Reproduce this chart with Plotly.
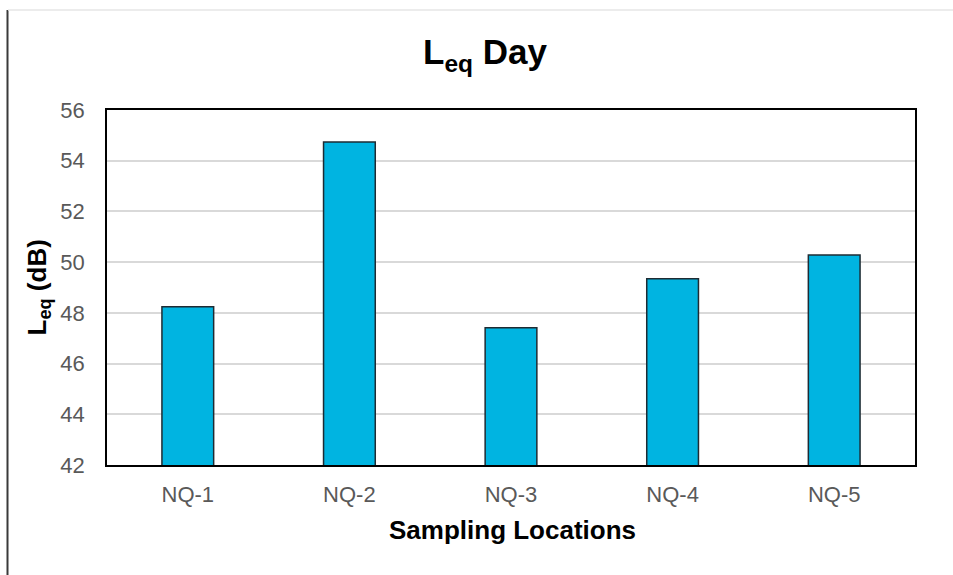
import plotly.graph_objects as go

# Sampling locations and daytime equivalent noise levels (dB)
locations = ["NQ-1", "NQ-2", "NQ-3", "NQ-4", "NQ-5"]
leq_day = [48.24, 54.74, 47.41, 49.35, 50.28]
y_ticks = [42, 44, 46, 48, 50, 52, 54, 56]

W, H = 953, 575
L, R, T, B = 107, 38, 110, 110
pw, ph = W - L - R, H - T - B


def px_x(x):
    return (x - L) / pw


def px_y(y):
    return (H - B - y) / ph


fig = go.Figure(
    go.Bar(
        x=locations,
        y=leq_day,
        base=0,
        marker=dict(color="#00B4E1", line=dict(color="#1E2B33", width=1.5)),
        hoverinfo="x+y",
    )
)

font = "Liberation Sans, Arial, sans-serif"

fig.update_layout(
    width=W,
    height=H,
    margin=dict(l=L, r=R, t=T, b=B, pad=0),
    paper_bgcolor="white",
    plot_bgcolor="white",
    bargap=0.68,
    showlegend=False,
    title=dict(
        text="<b>L<sub>eq</sub> Day</b>",
        x=485 / W,
        xanchor="center",
        xref="container",
        y=1 - 52 / H,
        yanchor="middle",
        yref="container",
        font=dict(family=font, size=35, color="black"),
    ),
    font=dict(family=font),
)

fig.update_xaxes(
    showgrid=False,
    showline=True,
    linecolor="black",
    linewidth=2,
    mirror=True,
    ticks="outside",
    ticklen=9,
    tickcolor="rgba(0,0,0,0)",
    tickfont=dict(family=font, size=22, color="#595959"),
)

fig.update_yaxes(
    range=[42, 56],
    tickvals=y_ticks,
    showgrid=True,
    gridcolor="#D9D9D9",
    gridwidth=1.5,
    showline=True,
    linecolor="black",
    linewidth=1.5,
    mirror=True,
    ticks="outside",
    ticklen=16,
    tickcolor="rgba(0,0,0,0)",
    tickfont=dict(family=font, size=22, color="#595959"),
    zeroline=False,
)

# Axis titles
fig.add_annotation(
    text="<b>Sampling Locations</b>",
    xref="paper", yref="paper",
    x=px_x(512), y=px_y(530),
    xanchor="center", yanchor="middle",
    showarrow=False,
    font=dict(family=font, size=26, color="black"),
)
fig.add_annotation(
    text="<b>L<sub>eq</sub> (dB)</b>",
    xref="paper", yref="paper",
    x=px_x(38), y=px_y(287.5),
    xanchor="center", yanchor="middle",
    textangle=-90,
    showarrow=False,
    font=dict(family=font, size=26, color="black"),
)

# Outer frame lines
fig.add_shape(
    type="line", xref="paper", yref="paper",
    x0=px_x(7.5), x1=px_x(7.5), y0=px_y(10), y1=px_y(H),
    line=dict(color="#3A3A3A", width=2),
)
fig.add_shape(
    type="line", xref="paper", yref="paper",
    x0=px_x(8), x1=px_x(W), y0=px_y(10), y1=px_y(10),
    line=dict(color="#E6E6E6", width=1.5),
)

fig.write_html("out.html")
